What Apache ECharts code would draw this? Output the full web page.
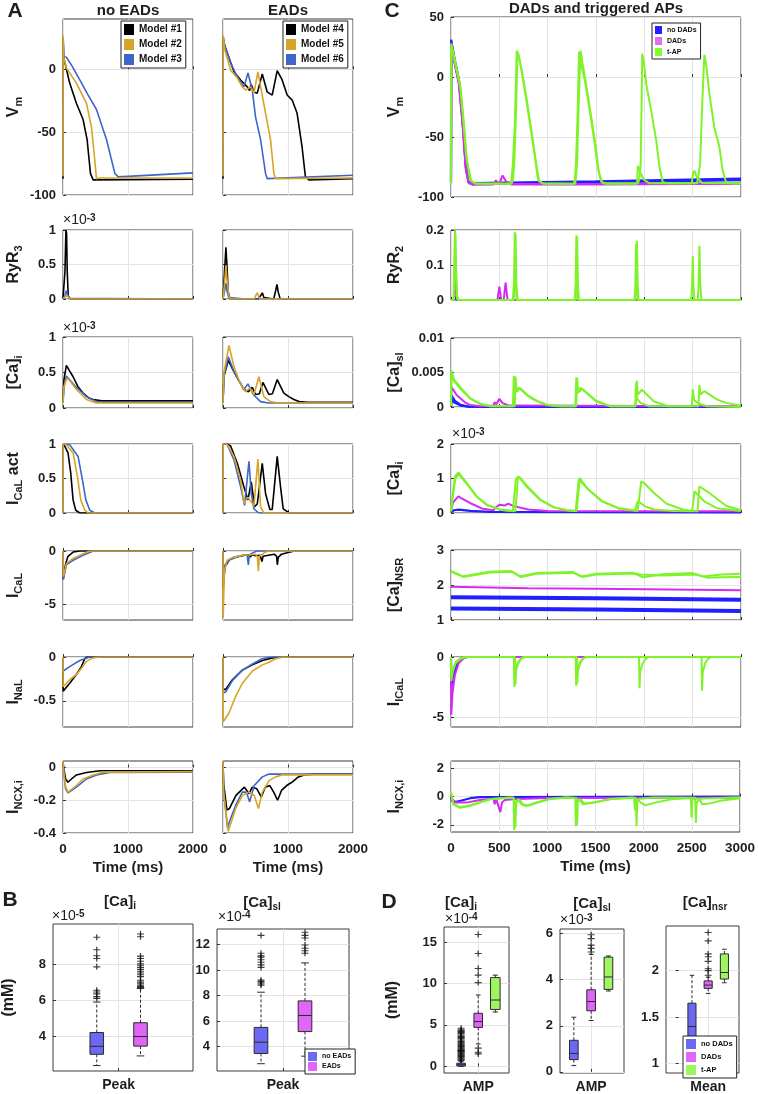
<!DOCTYPE html>
<html><head><meta charset="utf-8">
<script src="https://cdn.jsdelivr.net/npm/echarts@6/dist/echarts.min.js"></script>
<style>html,body{margin:0;padding:0;background:#fff}#c{width:758px;height:1094px}</style>
</head><body><div id="c"></div><script>
// ---------------- DATA ----------------
// Panel A, "no EADs" (Models #1-#3) and "EADs" (Models #4-#6); [time ms, value]
const vmM1 = [[0,-87],[2,25],[8,10],[26,6],[103,-11],[206,-27],[309,-40],[371,-56],[423,-83],[464,-88],[2000,-87.5]];
const vmM2 = [[0,-85],[2,27],[10,10],[52,1],[206,-11],[361,-27],[438,-46],[479,-67],[515,-87],[560,-86.5],[2000,-86.5]];
const vmM3 = [[0,-85],[2,25],[15,10],[52,9.6],[129,3.5],[258,-8.5],[387,-20.5],[515,-32],[670,-56],[799,-83],[851,-85.6],[2000,-82.4]];
const vmM4 = [[0,-87],[2,25],[15,21],[66,13],[169,-2],[271,-8.5],[373,-14],[410,-17],[430,-12],[450,-14],[470,-18],[527,-19],[604,-3.7],[680,-18],[757,-20.5],[834,-1],[910,-8.5],[987,-20.5],[1064,-24.5],[1140,-35],[1217,-62],[1268,-85.6],[1320,-88],[2000,-87]];
const vmM5 = [[0,-85],[3,27],[30,15],[120,-1],[220,-7],[297,-14],[348,-16.5],[425,-14],[476,-19],[537,-2],[588,-16.5],[655,-35],[731,-56],[783,-83],[808,-87],[2000,-86.5]];
const vmM6 = [[0,-85],[3,26],[30,18],[118,5],[220,-6],[322,-14],[384,-3],[450,-16.5],[501,-38],[578,-56],[655,-83],[680,-87],[2000,-84.3]];

const ryrM1 = [[0,0],[15,0],[30,0.4],[45,1.0],[55,0.95],[65,0.4],[80,0.05],[110,0],[2000,0]];
const ryrM2 = [[0,0],[30,0.02],[55,0.05],[80,0.03],[120,0],[2000,0]];
const ryrM3 = [[0,0],[30,0.05],[50,0.12],[70,0.06],[100,0.01],[130,0],[2000,0]];
const ryrM4 = [[0,0],[15,0],[30,0.5],[45,0.75],[60,0.5],[80,0.1],[110,0],[540,0],[580,0.05],[605,0.09],[630,0.02],[660,0],[780,0],[810,0.12],[830,0.21],[850,0.1],[880,0],[2000,0]];
const ryrM5 = [[0,0],[30,0.3],[45,0.49],[60,0.3],[90,0.05],[120,0],[480,0],[510,0.06],[530,0.09],[550,0.03],[580,0],[2000,0]];
const ryrM6 = [[0,0],[30,0.15],[45,0.23],[60,0.12],[90,0.02],[120,0],[350,0],[375,0.02],[400,0],[2000,0]];

const caiM1 = [[0,0.08],[15,0.4],[52,0.6],[90,0.54],[155,0.44],[230,0.3],[309,0.21],[400,0.14],[464,0.12],[600,0.1],[2000,0.1]];
const caiM2 = [[0,0.07],[15,0.3],[60,0.42],[100,0.39],[206,0.26],[361,0.12],[515,0.07],[2000,0.07]];
const caiM3 = [[0,0.07],[15,0.3],[52,0.45],[100,0.4],[206,0.29],[361,0.16],[515,0.09],[650,0.08],[2000,0.08]];
const caiM4 = [[0,0.08],[15,0.45],[82,0.67],[169,0.51],[322,0.26],[390,0.23],[450,0.29],[501,0.19],[560,0.2],[614,0.36],[706,0.19],[760,0.2],[834,0.4],[936,0.21],[1013,0.16],[1090,0.12],[1170,0.09],[1300,0.08],[2000,0.08]];
const caiM5 = [[0,0.07],[15,0.5],[92,0.88],[169,0.58],[271,0.33],[348,0.23],[415,0.28],[476,0.19],[552,0.44],[629,0.16],[731,0.09],[850,0.07],[2000,0.07]];
const caiM6 = [[0,0.07],[15,0.45],[82,0.72],[169,0.51],[322,0.26],[384,0.34],[465,0.19],[578,0.09],[700,0.07],[2000,0.07]];

const actM1 = [[0,0],[3,1],[26,0.97],[77,0.87],[119,0.58],[155,0.19],[196,0.04],[258,0],[2000,0]];
const actM2 = [[0,0],[3,1],[52,0.99],[155,0.87],[222,0.53],[273,0.19],[335,0.04],[387,0],[2000,0]];
const actM3 = [[0,0],[3,1],[103,0.99],[232,0.82],[299,0.48],[351,0.19],[412,0.04],[490,0],[2000,0]];
const actM4 = [[0,0],[3,1],[60,1],[118,0.97],[220,0.72],[322,0.38],[384,0.19],[435,0.45],[486,0.09],[527,0.13],[604,0.72],[655,0.28],[721,0.05],[757,0.05],[834,0.82],[885,0.38],[926,0.06],[1020,0],[2000,0]];
const actM5 = [[0,0],[3,1],[60,1],[169,0.82],[271,0.48],[322,0.14],[384,0.23],[476,0.1],[537,0.78],[578,0.09],[629,0],[2000,0]];
const actM6 = [[0,0],[3,1],[60,1],[169,0.77],[271,0.38],[332,0.11],[399,0.75],[435,0.28],[476,0.06],[552,0],[2000,0]];

const icalM1 = [[0,0],[5,-2.6],[41,-1.2],[77,-0.5],[155,-0.1],[258,0],[2000,0]];
const icalM2 = [[0,0],[5,-2.4],[52,-1.2],[155,-0.7],[309,-0.25],[412,0],[2000,0]];
const icalM3 = [[0,0],[5,-2.7],[52,-1.3],[155,-0.87],[309,-0.4],[464,0],[2000,0]];
const icalM4 = [[0,0],[3,-3.5],[30,-1.5],[100,-0.8],[200,-0.55],[300,-0.45],[380,-0.35],[420,-0.55],[450,-0.35],[500,-0.45],[570,-0.4],[600,-1.0],[615,-0.5],[700,-0.4],[790,-0.3],[825,-0.5],[836,-1.3],[850,-0.6],[900,-0.3],[1000,-0.15],[1100,0],[2000,0]];
const icalM5 = [[0,0],[3,-6.3],[20,-2],[60,-0.9],[150,-0.6],[300,-0.4],[420,-0.35],[500,-0.3],[530,-0.6],[544,-1.9],[560,-0.5],[650,-0.1],[720,0],[2000,0]];
const icalM6 = [[0,0],[3,-3],[30,-1.3],[100,-0.85],[200,-0.6],[300,-0.4],[370,-0.35],[390,-1.3],[405,-0.4],[450,-0.2],[520,0],[2000,0]];

const inalM1 = [[0,0],[3,-0.39],[103,-0.3],[206,-0.2],[283,-0.11],[335,-0.02],[371,0],[2000,0]];
const inalM2 = [[0,0],[3,-0.34],[103,-0.26],[206,-0.2],[283,-0.13],[361,-0.05],[464,-0.01],[567,0],[2000,0]];
const inalM3 = [[0,0],[3,-0.16],[103,-0.11],[258,-0.04],[412,0],[2000,0]];
const inalM4 = [[0,0],[3,-0.37],[41,-0.37],[144,-0.26],[298,-0.15],[452,-0.09],[606,-0.04],[760,-0.01],[965,0],[2000,0]];
const inalM5 = [[0,0],[3,-0.74],[31,-0.74],[92,-0.64],[195,-0.45],[298,-0.3],[452,-0.16],[606,-0.09],[708,-0.06],[810,-0.02],[913,0],[2000,0]];
const inalM6 = [[0,0],[3,-0.41],[41,-0.4],[144,-0.27],[298,-0.15],[452,-0.08],[600,-0.02],[735,0],[2000,0]];

const ncxM1 = [[0,0.04],[10,0],[40,-0.07],[77,-0.09],[130,-0.07],[206,-0.045],[361,-0.03],[567,-0.02],[2000,-0.02]];
const ncxM2 = [[0,0.04],[10,-0.02],[40,-0.12],[77,-0.15],[206,-0.11],[309,-0.07],[464,-0.045],[619,-0.028],[2000,-0.025]];
const ncxM3 = [[0,0.04],[10,-0.02],[40,-0.13],[77,-0.155],[206,-0.12],[361,-0.07],[515,-0.045],[722,-0.03],[2000,-0.028]];
const ncxM4 = [[0,0.04],[10,-0.1],[60,-0.26],[100,-0.25],[200,-0.17],[330,-0.12],[400,-0.16],[450,-0.12],[520,-0.13],[590,-0.18],[650,-0.12],[720,-0.11],[780,-0.15],[840,-0.2],[900,-0.14],[980,-0.11],[1060,-0.09],[1150,-0.06],[1250,-0.045],[1400,-0.04],[2000,-0.04]];
const ncxM5 = [[0,0.04],[10,-0.15],[80,-0.39],[195,-0.25],[298,-0.17],[400,-0.15],[480,-0.17],[545,-0.25],[606,-0.15],[708,-0.08],[810,-0.057],[900,-0.045],[2000,-0.045]];
const ncxM6 = [[0,0.04],[10,-0.15],[70,-0.37],[100,-0.33],[195,-0.23],[298,-0.15],[360,-0.15],[410,-0.21],[480,-0.11],[606,-0.057],[708,-0.04],[2000,-0.04]];

// Panel C, DADs and triggered APs; [time ms, value]
const cVmBlue1 = [[0,-88],[2,31],[30,18],[80,-2],[120,-35],[150,-70],[180,-87],[220,-88.5],[1500,-87],[3000,-84.7]];
const cVmBlue2 = [[0,-88],[2,29],[30,16],[85,-4],[125,-40],[155,-74],[185,-87.5],[230,-88.8],[1500,-87.8],[3000,-86]];
const cVmMag1 = [[0,-88],[3,28],[30,15],[80,-5],[120,-40],[150,-75],[180,-88],[220,-89.5],[440,-89.5],[464,-86],[490,-89],[1500,-89.2],[3000,-88.5]];
const cVmMag2 = [[0,-88],[3,27],[30,14],[85,-7],[125,-44],[155,-78],[185,-88.5],[225,-89.6],[500,-89],[533,-82],[570,-87],[620,-89.5],[1500,-89.5],[3000,-89]];
const cVmG1 = [[0,-89],[3,28],[41,14],[93,-6],[127,-36],[155,-64],[196,-86],[250,-88.6],[610,-89],[626,-86],[640,-72],[660,-40],[680,22],[700,18],[729,6],[781,-20],[832,-47],[867,-66],[901,-86],[950,-88.6],[1270,-89],[1282,-85],[1293,-72],[1310,-30],[1324,21],[1340,12],[1383,-2],[1434,-27],[1486,-55],[1520,-76],[1555,-87.5],[1600,-88.5],[1935,-88.5],[1950,-85],[1962,-72],[1972,-20],[1978,19.5],[1995,12],[2020,-6],[2071,-28],[2123,-53],[2157,-75],[2190,-87.5],[2230,-88.5],[2490,-88.5],[2505,-80],[2518,-78],[2545,-84],[2600,-88.3],[3000,-88.5]];
const cVmG2 = [[0,-89],[3,26],[41,12],[100,-10],[135,-40],[165,-70],[210,-87],[260,-89],[625,-89],[640,-86],[655,-72],[672,-30],[688,21],[705,16],[740,2],[795,-25],[845,-52],[880,-72],[912,-87],[960,-89],[1285,-89],[1295,-82],[1305,-70],[1322,-20],[1340,22],[1355,14],[1395,-5],[1450,-33],[1500,-60],[1530,-80],[1565,-88],[1600,-89],[1925,-89],[1933,-74],[1960,-80],[2000,-86],[2050,-88.5],[2545,-88.5],[2560,-82],[2577,-72],[2600,-20],[2621,18.6],[2640,10],[2673,-14],[2724,-42],[2776,-58],[2810,-78],[2845,-87.5],[2900,-88.5],[3000,-88.7]];

const cRyrBlue = [[0,0],[30,0],[42,0.01],[55,0],[3000,0]];
const cRyrMag = [[0,0],[35,0],[45,0.09],[55,0.02],[70,0],[480,0],[500,0.038],[520,0],[545,0],[565,0.05],[585,0],[3000,0]];
const cRyrG1 = [[0,0],[25,0],[35,0.12],[42,0.2],[50,0.1],[60,0.01],[80,0],[640,0],[652,0.05],[660,0.195],[668,0.05],[680,0],[1280,0],[1290,0.05],[1297,0.185],[1305,0.05],[1315,0],[1905,0],[1915,0.05],[1923,0.17],[1931,0.05],[1940,0],[2485,0],[2494,0.04],[2501,0.125],[2508,0.04],[2518,0],[3000,0]];
const cRyrG2 = [[0,0],[28,0],[38,0.1],[45,0.19],[53,0.08],[65,0],[650,0],[660,0.05],[668,0.19],[676,0.05],[688,0],[1290,0],[1298,0.05],[1305,0.18],[1313,0.05],[1323,0],[1898,0],[1907,0.04],[1914,0.16],[1921,0.04],[1930,0],[2553,0],[2562,0.05],[2570,0.155],[2578,0.05],[2590,0],[3000,0]];

const cCaslBlue = [[0,0.0001],[5,0.0017],[40,0.0009],[100,0.0003],[200,0],[3000,0]];
const cCaslBlue2 = [[0,0.0001],[5,0.0011],[40,0.0006],[100,0.0002],[200,0],[3000,0]];
const cCaslMag = [[0,0.0001],[5,0.0029],[60,0.0017],[93,0.0013],[150,0.0006],[196,0.0003],[300,0.0001],[440,0.0002],[450,0.0007],[470,0.0004],[500,0.0012],[530,0.0006],[600,0.0002],[3000,0.0001]];
const cCaslG1 = [[0,0.0002],[5,0.0053],[30,0.004],[93,0.0029],[196,0.0013],[299,0.0005],[400,0.0001],[640,0.0001],[650,0.0045],[660,0.0023],[700,0.0028],[712,0.0029],[780,0.0018],[850,0.0011],[987,0.0003],[1100,0.0001],[1285,0.0001],[1297,0.0043],[1305,0.002],[1340,0.0028],[1360,0.0027],[1503,0.0008],[1650,0.0001],[1910,0.0001],[1923,0.0038],[1932,0.0018],[1975,0.0025],[1990,0.0024],[2100,0.0008],[2250,0.0001],[2490,0.0001],[2501,0.0026],[2515,0.001],[2560,0.0005],[2650,0.0001],[3000,0]];
const cCaslG2 = [[0,0.0002],[5,0.0049],[30,0.0038],[100,0.0026],[200,0.0012],[300,0.0004],[420,0.0001],[660,0.0001],[668,0.0044],[678,0.0022],[720,0.0027],[800,0.0016],[900,0.0008],[1000,0.0003],[1150,0.0001],[1295,0.0001],[1305,0.0042],[1315,0.0021],[1360,0.0026],[1500,0.0009],[1650,0.0001],[1905,0.0001],[1915,0.0035],[1925,0.0012],[1960,0.0006],[2050,0.0001],[2560,0.0001],[2570,0.0032],[2580,0.0018],[2620,0.0023],[2640,0.0024],[2750,0.0011],[2845,0.0006],[3000,0.0002]];

// [Ca]i in units of 1e-3 mM
const cCaiBlue = [[0,0.03],[30,0.08],[80,0.1],[200,0.06],[400,0.03],[3000,0.02]];
const cCaiMag = [[0,0.05],[20,0.3],[76,0.48],[100,0.44],[196,0.29],[330,0.12],[440,0.08],[460,0.15],[500,0.24],[520,0.2],[560,0.22],[591,0.27],[650,0.2],[800,0.1],[1000,0.06],[3000,0.05]];
const cCaiG1 = [[0,0.05],[20,0.6],[41,1.06],[76,1.18],[162,0.87],[265,0.48],[368,0.24],[506,0.1],[640,0.05],[655,0.5],[670,0.97],[695,1.06],[781,0.77],[918,0.39],[1056,0.17],[1200,0.08],[1290,0.06],[1305,0.5],[1320,0.95],[1331,1.01],[1420,0.68],[1560,0.34],[1730,0.14],[1900,0.07],[1930,0.06],[1950,0.5],[1968,0.92],[2000,0.86],[2100,0.58],[2230,0.27],[2400,0.1],[2495,0.06],[2510,0.4],[2518,0.63],[2620,0.34],[2750,0.14],[3000,0.06]];
const cCaiG2 = [[0,0.05],[22,0.55],[45,1.0],[80,1.12],[170,0.82],[270,0.46],[380,0.22],[520,0.09],[665,0.05],[680,0.55],[690,0.98],[710,1.04],[800,0.74],[930,0.37],[1070,0.16],[1200,0.08],[1300,0.06],[1315,0.5],[1330,0.94],[1345,0.98],[1430,0.66],[1570,0.33],[1740,0.13],[1905,0.07],[1920,0.25],[1935,0.35],[2000,0.2],[2100,0.1],[2300,0.06],[2550,0.05],[2562,0.5],[2570,0.77],[2580,0.75],[2673,0.58],[2845,0.21],[3000,0.08]];

const cNsrBlueLo = [[0,1.33],[1500,1.3],[3000,1.26]];
const cNsrBlueHi = [[0,1.65],[1500,1.62],[3000,1.58]];
const cNsrMag = [[0,1.95],[800,1.91],[1500,1.89],[3000,1.85]];
const cNsrG1 = [[0,2.4],[58,2.33],[127,2.24],[230,2.3],[402,2.38],[620,2.4],[712,2.24],[884,2.34],[1262,2.37],[1348,2.24],[1503,2.32],[1882,2.35],[1985,2.22],[2191,2.31],[2501,2.34],[2604,2.24],[2800,2.3],[3000,2.32]];
const cNsrG2 = [[0,2.38],[58,2.31],[127,2.23],[230,2.28],[402,2.36],[630,2.38],[725,2.23],[884,2.32],[1270,2.35],[1360,2.23],[1503,2.3],[1900,2.33],[1960,2.3],[2191,2.27],[2540,2.3],[2650,2.21],[2800,2.22],[3000,2.23]];

const cIcalBlue = [[0,0],[3,-2.5],[20,-1.6],[60,-0.6],[120,-0.1],[160,0],[3000,0]];
const cIcalMag = [[0,0],[3,-4.8],[15,-3],[40,-1.5],[80,-0.5],[130,-0.1],[170,0],[3000,0]];
const cIcalG1 = [[0,0],[3,-2],[20,-1.2],[50,-0.5],[100,-0.15],[150,0],[650,0],[655,-2.5],[662,-1.2],[690,-0.5],[720,-0.15],[750,0],[1290,0],[1295,-2.4],[1302,-1.2],[1330,-0.5],[1360,-0.15],[1390,0],[1945,0],[1950,-2.6],[1957,-1.2],[1985,-0.5],[2015,-0.15],[2045,0],[3000,0]];
const cIcalG2 = [[0,0],[3,-1.6],[20,-1.0],[50,-0.4],[100,-0.1],[150,0],[662,0],[667,-2.3],[674,-1.1],[700,-0.45],[730,-0.12],[760,0],[1302,0],[1307,-2.2],[1314,-1.1],[1340,-0.45],[1370,-0.12],[1400,0],[2592,0],[2597,-2.8],[2604,-1.3],[2630,-0.5],[2660,-0.15],[2690,0],[3000,0]];

const cNcxBlue = [[0,0.1],[10,-0.3],[40,-0.4],[100,-0.3],[200,-0.12],[300,-0.05],[3000,0]];
const cNcxMag = [[0,0.1],[10,-0.2],[58,-0.43],[160,-0.43],[300,-0.24],[440,-0.15],[454,-0.55],[470,-0.2],[512,-1.1],[530,-0.4],[560,-0.25],[640,-0.19],[1000,-0.1],[3000,-0.08]];
const cNcxG1 = [[0,0.3],[24,-0.55],[93,-0.8],[196,-0.67],[300,-0.43],[400,-0.2],[600,-0.07],[650,-0.1],[656,-2.35],[665,-0.45],[695,-0.2],[730,-0.55],[781,-0.67],[880,-0.43],[1010,-0.19],[1180,-0.07],[1290,-0.1],[1296,-2.1],[1305,-0.35],[1330,-0.2],[1370,-0.55],[1480,-0.43],[1650,-0.19],[1870,-0.07],[1920,-0.1],[1926,-2.1],[1935,-0.2],[1970,-0.43],[2020,-0.62],[2120,-0.43],[2290,-0.19],[2490,-0.1],[2498,-1.5],[2505,-0.2],[2560,-0.15],[3000,-0.05]];
const cNcxG2 = [[0,0.25],[24,-0.5],[93,-0.75],[200,-0.62],[300,-0.4],[420,-0.18],[650,-0.07],[662,-0.1],[668,-2.2],[677,-0.45],[710,-0.2],[745,-0.55],[800,-0.65],[900,-0.42],[1030,-0.18],[1200,-0.07],[1302,-0.1],[1308,-2.0],[1317,-0.35],[1345,-0.2],[1385,-0.5],[1490,-0.4],[1660,-0.18],[1900,-0.08],[1910,-1.0],[1918,-0.3],[1960,-0.15],[2100,-0.07],[2535,-0.08],[2542,-1.87],[2550,-0.43],[2580,-0.2],[2608,-0.55],[2680,-0.5],[2800,-0.3],[3000,-0.12]];

// Panel B box statistics [group, min, Q1, median, Q3, max]; outliers per group
const bCaiNoEAD = [[1, 2.4, 3.02, 3.46, 4.22, 5.9]];          // x1e-5 mM
const bCaiEAD   = [[2, 2.93, 3.47, 4.0, 4.76, 6.65]];
const bCaiOutNoEAD = [9.47, 8.78, 8.45, 8.3, 7.84, 6.55, 6.45, 6.35, 6.2, 6.1];
const bCaiOutEAD = [9.65, 9.5, 8.43, 8.3, 8.15, 8.0, 7.9, 7.8, 7.7, 7.6, 7.5, 7.4, 7.3, 7.1, 7.0, 6.9, 6.8, 6.75, 6.7];
const bCaslNoEAD = [[1, 2.67, 3.47, 4.35, 5.51, 8.26]];       // x1e-4 mM
const bCaslEAD   = [[2, 3.26, 5.18, 6.44, 7.58, 10.55]];
const bCaslOutNoEAD = [12.7, 11.3, 11.1, 11.0, 10.8, 10.6, 10.4, 10.2, 9.2, 9.1, 9.0, 8.9, 8.8];
const bCaslOutEAD = [12.95, 12.7, 12.5, 11.95, 11.7, 11.5, 11.3];

// Panel D box statistics
const dCaiNoDAD = [[1, 0.0, 0.04, 0.2, 0.39, 0.6]];            // x1e-4 mM
const dCaiDAD   = [[2, 2.7, 4.7, 5.4, 6.4, 8.6]];
const dCaiTAP   = [[3, 6.55, 6.86, 8.0, 10.7, 11.0]];
const dCaiOutNoDAD = [4.6,4.4,4.3,4.2,4.1,4.0,3.9,3.75,3.6,3.5,3.4,3.3,3.15,3.0,2.9,2.8,2.7,2.6,2.5,2.4,2.3,2.2,2.1,2.0,1.95,1.9,1.85,1.8,1.7,1.6,1.5,1.4,1.3,1.2,1.1,1.0,0.9,0.8,0.7];
const dCaiOutDAD = [15.9, 13.6, 11.8, 11.0, 10.1, 2.2, 1.7, 1.5];
const dCaslNoDAD = [[1, 0.27, 0.53, 0.8, 1.37, 2.37]];         // x1e-3 mM
const dCaslDAD   = [[2, 2.23, 2.65, 3.05, 3.56, 5.1]];
const dCaslTAP   = [[3, 3.51, 3.58, 4.12, 4.98, 5.03]];
const dCaslOutDAD = [5.2, 5.36, 5.5, 5.78, 5.95];
const dNsrNoDAD = [[1, 0.98, 1.24, 1.40, 1.65, 1.95]];         // mM
const dNsrDAD   = [[2, 1.755, 1.81, 1.845, 1.89, 1.93]];
const dNsrTAP   = [[3, 1.87, 1.91, 1.98, 2.18, 2.23]];
const dNsrOutDAD = [1.95, 2.0, 2.02, 2.1, 2.15, 2.18, 2.32, 2.41];

// Tick labels
const ticksVmA = [-100,-50,0], ticksUnit = [0,0.5,1], ticksIcalA = [-5,0], ticksInalA = [-0.5,0], ticksNcxA = [-0.4,-0.2,0];
const ticksVmC = [-100,-50,0,50], ticksRyrC = [0,0.1,0.2], ticksCaslC = [0,0.005,0.01], ticksCaiC = [0,1,2], ticksNsrC = [1,2,3], ticksIcalC = [-5,0], ticksNcxC = [-2,0,2];
const ticksBcai = [4,6,8], ticksBcasl = [4,6,8,10,12], ticksDcai = [0,5,10,15], ticksDcasl = [0,2,4,6], ticksDnsr = [1,1.5,2];

// ---------------- STYLE / LAYOUT ----------------
const FF = "'Liberation Sans', Arial, Helvetica, sans-serif";
const TXT = '#1e1e1e';
const COL = {k:'#000000', g:'#d8a428', b:'#3d66c6', cb:'#2020ff', cm:'#d22cf0', cg:'#7ff22a',
             bb:'#6c68f4', bm:'#df66f6', bg:'#9ef560'};
const NAME_RICH = {
  m:{fontSize:16, fontWeight:'bold', fontFamily:FF, color:TXT, verticalAlign:'top', lineHeight:18},
  s:{fontSize:11, fontWeight:'bold', fontFamily:FF, color:TXT, verticalAlign:'bottom', lineHeight:12, padding:[7,0,0,0]}
};
const grids=[], xAxes=[], yAxes=[], series=[];

function addGrid(g, xa, ya){
  grids.push(Object.assign({show:true, borderColor:'#3a3a3a', borderWidth:1, backgroundColor:'#fff'}, g));
  const gi = grids.length-1;
  xAxes.push(Object.assign({gridIndex:gi}, xa));
  yAxes.push(Object.assign({gridIndex:gi}, ya));
  return gi;
}
function plain(v){ return String(v); }
function tickLab(show, extra){
  return Object.assign({show, fontSize:13, fontWeight:'bold', color:TXT, fontFamily:FF, margin:7, formatter:plain}, extra||{});
}
function timeX(max, interval, last){
  return {type:'value', min:0, max, interval,
    axisLine:{show:false}, axisTick:{show:true, inside:true, length:3, lineStyle:{color:'#333'}},
    axisLabel:tickLab(last, {margin:9, fontSize:13.5, showMinLabel:true, showMaxLabel:true}),
    splitLine:{show:true, lineStyle:{color:'#e4e4e4', width:1}},
    name: last ? 'Time (ms)' : '', nameLocation:'middle', nameGap:27,
    nameTextStyle:{fontSize:15, fontWeight:'bold', color:TXT, fontFamily:FF}};
}
function valY(min, max, ticks, showLabels, name, gap){
  return {type:'value', min, max,
    axisLine:{show:false},
    axisTick:{show:true, inside:true, length:3, customValues:ticks, lineStyle:{color:'#333'}},
    axisLabel:tickLab(showLabels, {customValues:ticks}),
    splitLine:{show:true, lineStyle:{color:'#e4e4e4', width:1}},
    name: name||'', nameLocation:'middle', nameRotate:90, nameGap:gap||40,
    nameTextStyle:{rich:NAME_RICH}};
}
function addLine(gi, name, data, color, width){
  series.push({type:'line', name, xAxisIndex:gi, yAxisIndex:gi, data, showSymbol:false, symbol:'none',
    lineStyle:{color, width:width||1.6}, itemStyle:{color}, silent:true, clip:true, animation:false});
}
function addBox(gi, name, stats, color, halfW){
  series.push({type:'custom', name, xAxisIndex:gi, yAxisIndex:gi, data:stats, itemStyle:{color}, z:3, silent:true,
    encode:{x:0, y:[1,2,3,4,5]},
    renderItem:function(params, api){
      const x=api.value(0);
      const pLo=api.coord([x,api.value(1)]), pQ1=api.coord([x,api.value(2)]), pMd=api.coord([x,api.value(3)]),
            pQ3=api.coord([x,api.value(4)]), pHi=api.coord([x,api.value(5)]);
      const w=api.size([halfW*2,0])[0], cx=pMd[0], cap=w*0.28, st='#2a2a2a';
      return {type:'group', children:[
        {type:'line', shape:{x1:cx,y1:pQ3[1],x2:cx,y2:pHi[1]}, style:{stroke:st,lineWidth:1,lineDash:[3,2]}},
        {type:'line', shape:{x1:cx,y1:pQ1[1],x2:cx,y2:pLo[1]}, style:{stroke:st,lineWidth:1,lineDash:[3,2]}},
        {type:'line', shape:{x1:cx-cap,y1:pHi[1],x2:cx+cap,y2:pHi[1]}, style:{stroke:st,lineWidth:1}},
        {type:'line', shape:{x1:cx-cap,y1:pLo[1],x2:cx+cap,y2:pLo[1]}, style:{stroke:st,lineWidth:1}},
        {type:'rect', shape:{x:cx-w/2,y:pQ3[1],width:w,height:Math.max(1,pQ1[1]-pQ3[1])}, style:{fill:color,stroke:st,lineWidth:1}},
        {type:'line', shape:{x1:cx-w/2,y1:pMd[1],x2:cx+w/2,y2:pMd[1]}, style:{stroke:st,lineWidth:1}}
      ]};
    }});
}
const PLUS = 'path://M0,5L10,5M5,0L5,10';
function addOut(gi, group, vals){
  series.push({type:'scatter', xAxisIndex:gi, yAxisIndex:gi, data:vals.map(v=>[group,v]), symbol:PLUS, symbolSize:[7,6],
    itemStyle:{color:'rgba(0,0,0,0)', borderColor:'#111', borderWidth:1.2}, z:4, silent:true});
}
function boxX(min, max, pos, label){
  return {type:'value', min, max,
    axisLine:{show:false}, axisTick:{show:true, inside:true, length:3, customValues:[pos], lineStyle:{color:'#333'}},
    axisLabel:tickLab(true, {customValues:[pos], formatter:()=>label, fontSize:14, margin:7}),
    splitLine:{show:true, lineStyle:{color:'#e4e4e4', width:1}}};
}

// ---- Panel A ----
const rowsA = [[19,176],[230,69],[337,71],[444,69],[551,69],[657,70],[761,72]];
const rowsC = [[17,180],[230,70],[338,69],[444,69],[550,70],[657,70],[761,71]];
const aRows = [
  {name:'{m|V}{s|m}', min:-100, max:40, t:ticksVmA, L:[vmM1,vmM2,vmM3], R:[vmM4,vmM5,vmM6]},
  {name:'{m|RyR}{s|3}', min:0, max:1, t:ticksUnit, L:[ryrM1,ryrM2,ryrM3], R:[ryrM4,ryrM5,ryrM6]},
  {name:'{m|[Ca]}{s|i}', min:0, max:1, t:ticksUnit, L:[caiM1,caiM2,caiM3], R:[caiM4,caiM5,caiM6]},
  {name:'{m|I}{s|CaL}{m| act}', min:0, max:1, t:ticksUnit, L:[actM1,actM2,actM3], R:[actM4,actM5,actM6]},
  {name:'{m|I}{s|CaL}', min:-6.5, max:0, t:ticksIcalA, L:[icalM1,icalM2,icalM3], R:[icalM4,icalM5,icalM6]},
  {name:'{m|I}{s|NaL}', min:-0.8, max:0, t:ticksInalA, L:[inalM1,inalM2,inalM3], R:[inalM4,inalM5,inalM6]},
  {name:'{m|I}{s|NCX,i}', min:-0.4, max:0.04, t:ticksNcxA, L:[ncxM1,ncxM2,ncxM3], R:[ncxM4,ncxM5,ncxM6]}
];
const modelColors = [COL.k, COL.g, COL.b];
const drawOrderA = [0,2,1]; // black, blue, then gold on top
aRows.forEach((r,i)=>{
  const last = i===aRows.length-1;
  const gl = addGrid({left:63, top:rowsA[i][0], width:130, height:rowsA[i][1]}, timeX(2000,1000,last), valY(r.min,r.max,r.t,true,r.name,39));
  const gr = addGrid({left:223, top:rowsA[i][0], width:130, height:rowsA[i][1]}, timeX(2000,1000,last), valY(r.min,r.max,r.t,false));
  drawOrderA.forEach(k=>{ addLine(gl, 'Model #'+(k+1), r.L[k], modelColors[k], 1.6); });
  drawOrderA.forEach(k=>{ addLine(gr, 'Model #'+(k+4), r.R[k], modelColors[k], 1.6); });
});

// ---- Panel C ----
const cRows = [
  {name:'{m|V}{s|m}', min:-100, max:50, t:ticksVmC, b:[cVmBlue1,cVmBlue2], m:[cVmMag1,cVmMag2], g:[cVmG1,cVmG2]},
  {name:'{m|RyR}{s|2}', min:0, max:0.2, t:ticksRyrC, b:[cRyrBlue], m:[cRyrMag], g:[cRyrG1,cRyrG2]},
  {name:'{m|[Ca]}{s|sl}', min:0, max:0.01, t:ticksCaslC, b:[cCaslBlue,cCaslBlue2], m:[cCaslMag], g:[cCaslG1,cCaslG2]},
  {name:'{m|[Ca]}{s|i}', min:0, max:2, t:ticksCaiC, b:[cCaiBlue], m:[cCaiMag], g:[cCaiG1,cCaiG2]},
  {name:'{m|[Ca]}{s|NSR}', min:1, max:3, t:ticksNsrC, b:[cNsrBlueLo,cNsrBlueHi], m:[cNsrMag], g:[cNsrG1,cNsrG2], wb:4},
  {name:'{m|I}{s|ICaL}', min:-5.83, max:0, t:ticksIcalC, b:[cIcalBlue], m:[cIcalMag], g:[cIcalG1,cIcalG2]},
  {name:'{m|I}{s|NCX,i}', min:-2.5, max:2.5, t:ticksNcxC, b:[cNcxBlue], m:[cNcxMag], g:[cNcxG1,cNcxG2]}
];
cRows.forEach((r,i)=>{
  const last = i===cRows.length-1;
  const gi = addGrid({left:451, top:rowsC[i][0], width:290, height:rowsC[i][1]}, timeX(3000,500,last), valY(r.min,r.max,r.t,true,r.name,46));
  r.b.forEach(d=>addLine(gi,'no DADs',d,COL.cb,r.wb||2.2));
  r.m.forEach(d=>addLine(gi,'DADs',d,COL.cm,2));
  r.g.forEach(d=>addLine(gi,'t-AP',d,COL.cg,2));
});

// ---- Panel B ----
const gB1 = addGrid({left:51, top:924, width:142, height:147}, boxX(0,3.2,1.5,'Peak'),
  Object.assign(valY(2.1,10.2,ticksBcai,true,'{m|(mM)}',34)));
addBox(gB1,'no EADs',bCaiNoEAD,COL.bb,0.155); addBox(gB1,'EADs',bCaiEAD,COL.bm,0.155);
addOut(gB1,1,bCaiOutNoEAD); addOut(gB1,2,bCaiOutEAD);
const gB2 = addGrid({left:217, top:929, width:132, height:142}, boxX(0,3,1.5,'Peak'), valY(2.1,13.2,ticksBcasl,true));
addBox(gB2,'no EADs',bCaslNoEAD,COL.bb,0.155); addBox(gB2,'EADs',bCaslEAD,COL.bm,0.155);
addOut(gB2,1,bCaslOutNoEAD); addOut(gB2,2,bCaslOutEAD);

// ---- Panel D ----
const gD1 = addGrid({left:444, top:927, width:65, height:150}, boxX(0,3.8,2,'AMP'), valY(-0.8,16.8,ticksDcai,true,'{m|(mM)}',41));
addBox(gD1,'no DADs',dCaiNoDAD,COL.bb,0.25); addBox(gD1,'DADs',dCaiDAD,COL.bm,0.25); addBox(gD1,'t-AP',dCaiTAP,COL.bg,0.28);
addOut(gD1,1,dCaiOutNoDAD); addOut(gD1,2,dCaiOutDAD);
const gD2 = addGrid({left:560, top:929, width:64, height:148}, boxX(0.2,3.9,2,'AMP'), valY(-0.05,6.2,ticksDcasl,true));
addBox(gD2,'no DADs',dCaslNoDAD,COL.bb,0.25); addBox(gD2,'DADs',dCaslDAD,COL.bm,0.25); addBox(gD2,'t-AP',dCaslTAP,COL.bg,0.25);
addOut(gD2,2,dCaslOutDAD);
const gD3 = addGrid({left:666, top:926, width:73, height:149}, boxX(-0.6,3.9,2,'Mean'), valY(0.9,2.48,ticksDnsr,true));
addBox(gD3,'no DADs',dNsrNoDAD,COL.bb,0.25); addBox(gD3,'DADs',dNsrDAD,COL.bm,0.25); addBox(gD3,'t-AP',dNsrTAP,COL.bg,0.25);
addOut(gD3,2,dNsrOutDAD);

// ---------------- annotations ----------------
const SUBR = {
  m:{fontSize:15, fontWeight:'bold', fontFamily:FF, fill:TXT, verticalAlign:'top', lineHeight:17},
  s:{fontSize:10, fontWeight:'bold', fontFamily:FF, fill:TXT, verticalAlign:'bottom', lineHeight:11, padding:[7,0,0,0]}
};
const EXPR = {
  a:{fontSize:14, fontFamily:FF, fill:TXT, verticalAlign:'bottom', lineHeight:14},
  b:{fontSize:10, fontWeight:'bold', fontFamily:FF, fill:TXT, verticalAlign:'top', lineHeight:10, padding:[0,0,5,0]}
};
function txt(x,y,text,size,align){
  return {type:'text', x, y, silent:true, style:{text, fill:TXT, font:'bold '+size+'px '+FF, textAlign:align||'center', textVerticalAlign:'middle'}};
}
function rtxt(x,y,text,rich){
  return {type:'text', x, y, silent:true, style:{text, rich, fill:TXT, textAlign:'center', textVerticalAlign:'middle'}};
}
function expo(x,y,p){
  return {type:'text', x, y, silent:true, style:{text:'{a|\u00d710}{b|'+p+'}', rich:EXPR, fill:TXT, textAlign:'left', textVerticalAlign:'top'}};
}
const graphics = [
  txt(15,11,'A',21), txt(392,11,'C',21), txt(10,900,'B',21), txt(389,902,'D',21),
  txt(128,11,'no EADs',15), txt(288,11,'EADs',15), txt(596,9,'DADs and triggered APs',15),
  rtxt(120,903,'{m|[Ca]}{s|i}',SUBR), rtxt(262,904,'{m|[Ca]}{s|sl}',SUBR),
  rtxt(461,904,'{m|[Ca]}{s|i}',SUBR), rtxt(592,905,'{m|[Ca]}{s|sl}',SUBR), rtxt(705,904,'{m|[Ca]}{s|nsr}',SUBR),
  expo(63,213,'-3'), expo(63,321,'-3'), expo(452,427,'-3'),
  expo(52,909,'-5'), expo(218,910,'-4'), expo(445,912,'-4'), expo(560,913,'-3')
];

function leg(data,left,top,iw,ih,gap,fs){
  return {data, left, top, orient:'vertical', icon:'rect', itemWidth:iw, itemHeight:ih, itemGap:gap,
    selectedMode:false, backgroundColor:'#fff', borderColor:'#222', borderWidth:1, padding:[3,4,3,3],
    textStyle:{fontSize:fs, fontWeight:'bold', color:'#111', fontFamily:FF}};
}
const option = {
  animation:false, backgroundColor:'#fff',
  grid:grids, xAxis:xAxes, yAxis:yAxes, series,
  legend:[
    leg(['Model #1','Model #2','Model #3'],121,21,10,11,4,10),
    leg(['Model #4','Model #5','Model #6'],283,21,10,11,4,10),
    leg([{name:'no DADs',itemStyle:{color:'#2222ff'}},{name:'DADs',itemStyle:{color:'#dd6ef0'}},{name:'t-AP',itemStyle:{color:'#80ff30'}}],652,23,7,8,3,7),
    leg([{name:'no EADs',itemStyle:{color:COL.bb}},{name:'EADs',itemStyle:{color:COL.bm}}],305,1049,9,9,1,7),
    leg([{name:'no DADs',itemStyle:{color:COL.bb}},{name:'DADs',itemStyle:{color:COL.bm}},{name:'t-AP',itemStyle:{color:COL.bg}}],683,1036,10,10,3,7.5)
  ],
  graphic:graphics
};
const chart = echarts.init(document.getElementById('c'), null, {renderer:'canvas', width:758, height:1094});
chart.setOption(option);
</script></body></html>
